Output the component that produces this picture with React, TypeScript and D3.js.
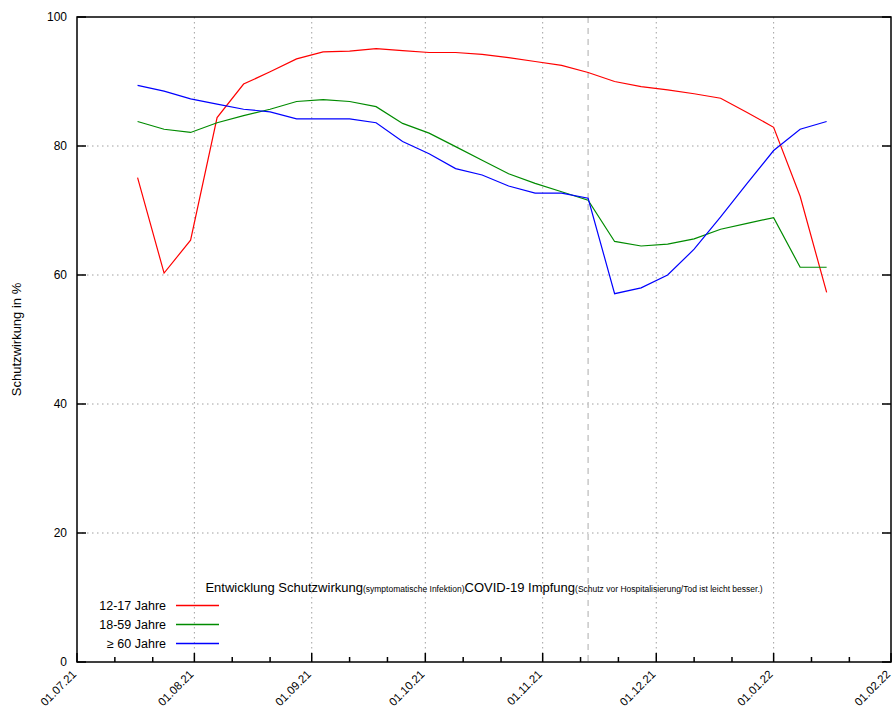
import React from "react";
import * as d3 from "d3";

// ---- data ----
const dates = [
  "2021-07-17", "2021-07-24", "2021-07-31", "2021-08-07", "2021-08-14", "2021-08-21",
  "2021-08-28", "2021-09-04", "2021-09-11", "2021-09-18", "2021-09-25", "2021-10-02",
  "2021-10-09", "2021-10-16", "2021-10-23", "2021-10-30", "2021-11-06", "2021-11-13",
  "2021-11-20", "2021-11-27", "2021-12-04", "2021-12-11", "2021-12-18", "2021-12-25",
  "2022-01-01", "2022-01-08", "2022-01-15",
];
const age12to17 = [
  75.1, 60.3, 65.4, 84.4, 89.6, 91.5, 93.5, 94.6, 94.7, 95.1, 94.8, 94.5, 94.5, 94.2,
  93.7, 93.1, 92.5, 91.4, 90.0, 89.2, 88.7, 88.1, 87.4, 85.2, 82.9, 72.2, 57.3,
];
const age18to59 = [
  83.8, 82.6, 82.1, 83.6, 84.7, 85.7, 86.9, 87.2, 86.9, 86.1, 83.5, 82.0, 79.9, 77.8,
  75.7, 74.2, 72.9, 71.6, 65.2, 64.5, 64.8, 65.6, 67.1, 68.0, 68.9, 61.2, 61.2,
];
const age60plus = [
  89.4, 88.5, 87.3, 86.5, 85.7, 85.3, 84.2, 84.2, 84.2, 83.6, 80.7, 78.8, 76.5, 75.5,
  73.8, 72.7, 72.7, 71.9, 57.1, 58.0, 60.0, 64.0, 69.0, 74.2, 79.3, 82.6, 83.8,
];
const seriesNames = ["12-17 Jahre", "18-59 Jahre", "\u2265 60 Jahre"];
const seriesColors = ["#ff0000", "#008b00", "#0000ff"];

const xTickDates = [
  "2021-07-01", "2021-08-01", "2021-09-01", "2021-10-01",
  "2021-11-01", "2021-12-01", "2022-01-01", "2022-02-01",
];
const xTickLabels = [
  "01.07.21", "01.08.21", "01.09.21", "01.10.21",
  "01.11.21", "01.12.21", "01.01.22", "01.02.22",
];
const xMinorTickDates = [
  "2021-07-11", "2021-07-21", "2021-08-11", "2021-08-21", "2021-09-11", "2021-09-21",
  "2021-10-11", "2021-10-21", "2021-11-11", "2021-11-21", "2021-12-11", "2021-12-21",
  "2022-01-11", "2022-01-21",
];
const yTicks = [0, 20, 40, 60, 80, 100];
const markerDate = "2021-11-13";

const yTitle = "Schutzwirkung in %";

// ---- layout ----
const W = 894;
const H = 708;
const L = 77;
const R = 891;
const T = 17;
const B = 662;
const FONT = "'Liberation Sans', Arial, Helvetica, sans-serif";

const parse = d3.timeParse("%Y-%m-%d");

export default function App() {
  const x = d3
    .scaleTime()
    .domain([parse(xTickDates[0])!, parse(xTickDates[xTickDates.length - 1])!])
    .range([L, R]);
  const y = d3.scaleLinear().domain([0, 100]).range([B, T]);

  const pts = dates.map((d) => parse(d)!);
  const allSeries = [age12to17, age18to59, age60plus];
  const line = d3
    .line<number>()
    .x((_, i) => x(pts[i]))
    .y((v) => y(v));

  const gridColor = "#a0a0a0";
  const gridDash = "1.5,3.5";

  return (
    <svg
      width={W}
      height={H}
      style={{ position: "absolute", left: 0, top: 0, background: "#fff" }}
      fontFamily={FONT}
    >
      <rect x={0} y={0} width={W} height={H} fill="#fff" />
      {/* horizontal grid */}
      {yTicks
        .filter((t) => t > 0 && t < 100)
        .map((t) => (
          <line
            key={"hg" + t}
            x1={L}
            x2={R}
            y1={y(t)}
            y2={y(t)}
            stroke={gridColor}
            strokeWidth={1}
            strokeDasharray={gridDash}
          />
        ))}
      {/* vertical grid */}
      {xTickDates.slice(1, -1).map((d) => (
        <line
          key={"vg" + d}
          x1={x(parse(d)!)}
          x2={x(parse(d)!)}
          y1={T}
          y2={B}
          stroke={gridColor}
          strokeWidth={1}
          strokeDasharray={gridDash}
        />
      ))}
      {/* marker dashed line */}
      <line
        x1={x(parse(markerDate)!)}
        x2={x(parse(markerDate)!)}
        y1={T}
        y2={B}
        stroke="#c8c8c8"
        strokeWidth={1.5}
        strokeDasharray="6,5"
      />

      {/* series */}
      {allSeries.map((s, i) => (
        <path
          key={"s" + i}
          d={line(s) || ""}
          fill="none"
          stroke={seriesColors[i]}
          strokeWidth={1.2}
          strokeLinejoin="miter"
        />
      ))}

      {/* border */}
      <rect x={L} y={T} width={R - L} height={B - T} fill="none" stroke="#000" strokeWidth={1.5} />

      {/* y ticks */}
      {yTicks.map((t) => (
        <g key={"yt" + t}>
          <line x1={L} x2={L + 9} y1={y(t)} y2={y(t)} stroke="#000" strokeWidth={1.5} />
          <line x1={R - 9} x2={R} y1={y(t)} y2={y(t)} stroke="#000" strokeWidth={1.5} />
          <text x={67} y={y(t)} dy="0.35em" textAnchor="end" fontSize={12} fill="#000">
            {t}
          </text>
        </g>
      ))}

      {/* x ticks */}
      {xTickDates.map((d, i) => {
        const px = x(parse(d)!);
        return (
          <g key={"xt" + d}>
            <line x1={px} x2={px} y1={B} y2={B - 9} stroke="#000" strokeWidth={1.5} />
            <text
              transform={`translate(${px},${B + 13}) rotate(-45)`}
              textAnchor="end"
              fontSize={11.5}
              fill="#000"
            >
              {xTickLabels[i]}
            </text>
          </g>
        );
      })}
      {xMinorTickDates.map((d) => {
        const px = x(parse(d)!);
        return <line key={"xm" + d} x1={px} x2={px} y1={B} y2={B - 5} stroke="#000" strokeWidth={1.5} />;
      })}

      {/* y title */}
      <text
        transform={`translate(21,${(T + B) / 2}) rotate(-90)`}
        textAnchor="middle"
        fontSize={13}
        fill="#000"
      >
        {yTitle}
      </text>

      {/* legend title */}
      <text x={(L + R) / 2} y={592} textAnchor="middle" fontSize={13} fill="#000">
        <tspan>Entwicklung Schutzwirkung</tspan>
        <tspan fontSize={8.5}>(symptomatische Infektion)</tspan>
        <tspan>COVID-19 Impfung</tspan>
        <tspan fontSize={8.5}>(Schutz vor Hospitalisierung/Tod ist leicht besser.)</tspan>
      </text>

      {/* legend entries */}
      {seriesNames.map((n, i) => {
        const ly = 605.5 + i * 19;
        return (
          <g key={"lg" + i}>
            <text x={166} y={ly} dy="0.35em" textAnchor="end" fontSize={12.5} fill="#000">
              {n}
            </text>
            <line x1={176} x2={219} y1={ly} y2={ly} stroke={seriesColors[i]} strokeWidth={1.3} />
          </g>
        );
      })}
    </svg>
  );
}
